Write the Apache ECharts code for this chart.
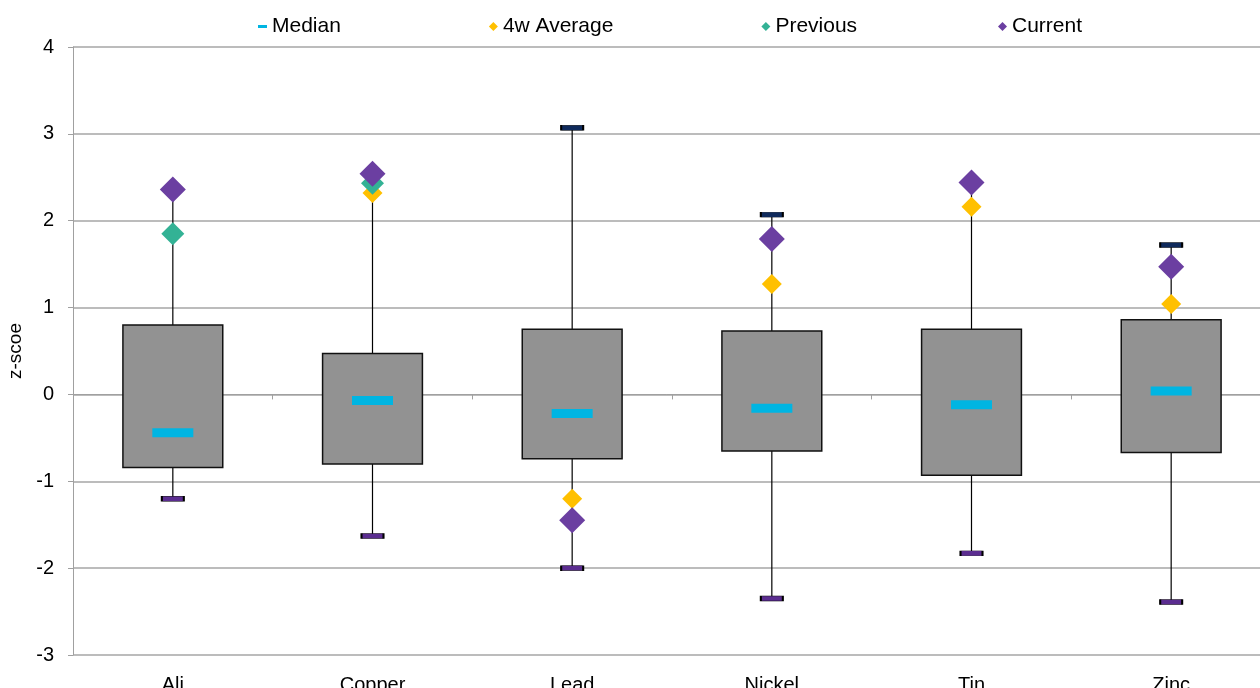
<!DOCTYPE html>
<html>
<head>
<meta charset="utf-8">
<script src="https://cdn.jsdelivr.net/npm/echarts@6/dist/echarts.min.js"></script>
<style>
html,body{margin:0;padding:0;background:#fff;}
#chart{width:1260px;height:688px;}
</style>
</head>
<body>
<div id="chart"></div>
<script>
const categories = ['Ali', 'Copper', 'Lead', 'Nickel', 'Tin', 'Zinc'];
const minValues    = [-1.20, -1.63, -2.00, -2.35, -1.83, -2.39];
const q1Values     = [-0.84, -0.80, -0.74, -0.65, -0.93, -0.67];
const medianValues = [-0.44, -0.07, -0.22, -0.16, -0.12, 0.04];
const q3Values     = [0.80, 0.47, 0.75, 0.73, 0.75, 0.86];
const maxValues    = [2.36, 2.53, 3.07, 2.07, 2.44, 1.72];
const avg4wValues  = [1.85, 2.32, -1.20, 1.27, 2.16, 1.04];
const previousValues = [1.85, 2.43, -1.45, 1.79, 2.44, 1.47];
const currentValues  = [2.36, 2.54, -1.45, 1.79, 2.44, 1.47];
const yTicks = [-3, -2, -1, 0, 1, 2, 3, 4];

const FONT = 'Liberation Sans, Arial, sans-serif';
const boxData = categories.map((c, i) => [i, minValues[i], q1Values[i], q3Values[i], maxValues[i]]);
// max caps that coincide with the current marker are hidden behind it in the original
const maxCapData = maxValues.map((v, i) => [i, v]).filter((p, i) => Math.abs(p[1] - currentValues[i]) > 0.05);

const legendBase = {
  top: 11,
  itemGap: 148,
  itemWidth: 9,
  itemHeight: 9,
  textStyle: {fontFamily: FONT, fontSize: 21, color: '#000'}
};

const chart = echarts.init(document.getElementById('chart'), null, {renderer: 'canvas'});
chart.setOption({
  animation: false,
  backgroundColor: '#ffffff',
  textStyle: {fontFamily: FONT},
  legend: [
    Object.assign({}, legendBase, {
      left: 253,
      data: [
        {name: 'Median', icon: 'path://M0,0 L3,0 L3,1 L0,1 Z'},
        {name: '4w Average', icon: 'diamond'},
        {name: 'Previous', icon: 'diamond'}
      ]
    }),
    Object.assign({}, legendBase, {
      left: 993,
      data: [{name: 'Current', icon: 'diamond'}]
    })
  ],
  grid: {left: 73, top: 47, width: 1198, height: 608, containLabel: false, outerBoundsMode: 'none'},
  xAxis: [{
    type: 'category',
    data: categories,
    position: 'bottom',
    axisLine: {show: false, onZero: false},
    axisTick: {show: false},
    axisLabel: {fontFamily: FONT, fontSize: 20, color: '#000', margin: 20},
    splitLine: {show: false}
  }, {
    type: 'category',
    data: categories,
    position: 'bottom',
    axisLine: {show: true, onZero: true, lineStyle: {color: '#a0a0a0', width: 1}},
    axisTick: {show: true, length: 5, inside: false, lineStyle: {color: '#a0a0a0'}},
    axisLabel: {show: false},
    splitLine: {show: false}
  }],
  yAxis: {
    type: 'value',
    min: -3, max: 4, interval: 1,
    name: 'z-scoe',
    nameLocation: 'middle',
    nameGap: 45,
    nameRotate: 90,
    nameTextStyle: {fontFamily: FONT, fontSize: 19, color: '#000'},
    axisLine: {show: true, lineStyle: {color: '#a0a0a0', width: 1}},
    axisTick: {show: true, length: 5, lineStyle: {color: '#a0a0a0'}},
    axisLabel: {fontFamily: FONT, fontSize: 20, color: '#000', margin: 19,
      formatter: v => yTicks.includes(v) ? String(v) : ''},
    splitLine: {show: true, lineStyle: {color: '#a6a6a6', width: 1.5}}
  },
  series: [
    {
      name: 'Box',
      type: 'custom',
      xAxisIndex: 0,
      data: boxData,
      z: 2,
      renderItem: function (params, api) {
        const x = api.value(0);
        const pMin = api.coord([x, api.value(1)]);
        const pQ1 = api.coord([x, api.value(2)]);
        const pQ3 = api.coord([x, api.value(3)]);
        const pMax = api.coord([x, api.value(4)]);
        const bw = api.size([1, 0])[0] * 0.5;
        return {
          type: 'group',
          children: [
            {type: 'line', shape: {x1: pMin[0], y1: pMin[1], x2: pMax[0], y2: pMax[1]},
             style: {stroke: '#000', lineWidth: 1.2}},
            {type: 'rect', shape: {x: pQ3[0] - bw / 2, y: pQ3[1], width: bw, height: pQ1[1] - pQ3[1]},
             style: {fill: '#929292', stroke: '#111', lineWidth: 1.5}}
          ]
        };
      }
    },
    {
      name: 'MaxCap', type: 'scatter', symbol: 'rect', symbolSize: [22, 5], z: 3,
      data: maxCapData,
      itemStyle: {color: '#0f2a5c', borderColor: '#000', borderWidth: 1, opacity: 1}
    },
    {
      name: 'MinCap', type: 'scatter', symbol: 'rect', symbolSize: [22, 5], z: 3,
      data: minValues.map((v, i) => [i, v]),
      itemStyle: {color: '#5b2d90', borderColor: '#000', borderWidth: 1, opacity: 1}
    },
    {
      name: 'Median', type: 'scatter', symbol: 'rect', symbolSize: [41, 9], z: 4,
      data: medianValues.map((v, i) => [i, v]),
      itemStyle: {color: '#00b5e2', opacity: 1}
    },
    {
      name: '4w Average', type: 'scatter', symbol: 'diamond', symbolSize: 20, z: 5,
      data: avg4wValues.map((v, i) => [i, v]),
      itemStyle: {color: '#ffc000', opacity: 1}
    },
    {
      name: 'Previous', type: 'scatter', symbol: 'diamond', symbolSize: 23, z: 6,
      data: previousValues.map((v, i) => [i, v]),
      itemStyle: {color: '#33b295', opacity: 1}
    },
    {
      name: 'Current', type: 'scatter', symbol: 'diamond', symbolSize: 26, z: 7,
      data: currentValues.map((v, i) => [i, v]),
      itemStyle: {color: '#6b3fa1', opacity: 1}
    }
  ]
});
</script>
</body>
</html>
